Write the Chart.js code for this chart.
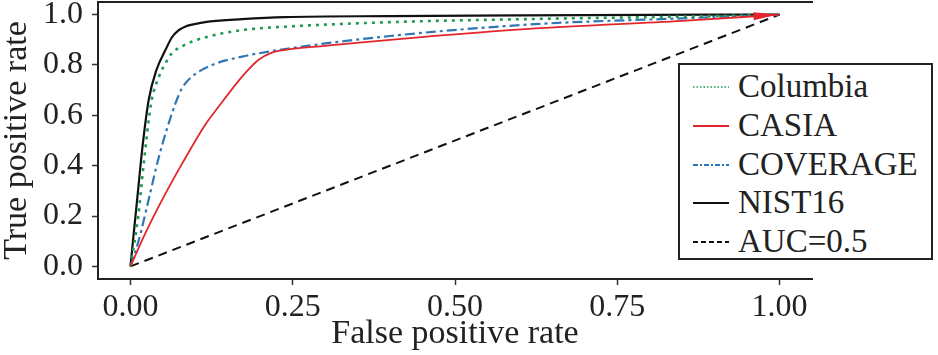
<!DOCTYPE html>
<html>
<head>
<meta charset="utf-8">
<script src="https://cdn.jsdelivr.net/npm/chart.js@4.4.1/dist/chart.umd.min.js"></script>
<style>
  html, body { margin: 0; padding: 0; background: #fff; }
  #wrap { position: relative; width: 938px; height: 355px; overflow: hidden; }
  #c { position: absolute; left: 0; top: 0; }
  #legend { position: absolute; left: 678px; top: 63px; width: 251px; height: 193px;
    border: 2px solid #222; background: #fff; font-family: "Liberation Serif", "Times New Roman", serif;
    font-size: 33px; color: #222; }
  .row { position: absolute; left: 0; height: 38px; line-height: 38px; white-space: nowrap; }
  .row svg { position: absolute; left: 13px; top: 18px; }
  .row span { position: absolute; left: 58px; top: 0; }
</style>
</head>
<body>
<div id="wrap">
  <canvas id="c" width="938" height="355"></canvas>
  <div id="legend"></div>
</div>
<script>
// ---- data ----
const seriesNames = ["Columbia", "CASIA", "COVERAGE", "NIST16", "AUC=0.5"];

const columbiaFpr = [0, 0.012, 0.02, 0.032, 0.044, 0.054, 0.064, 0.08, 0.095, 0.12, 0.146, 0.187, 0.238, 0.4, 0.63, 0.85, 1];
const columbiaTpr = [0, 0.2, 0.397, 0.65, 0.754, 0.807, 0.847, 0.875, 0.893, 0.913, 0.928, 0.943, 0.952, 0.97, 0.983, 0.992, 1];

const casiaFpr = [0, 0.023, 0.049, 0.08, 0.115, 0.136, 0.172, 0.197, 0.218, 0.238, 0.3, 0.4, 0.63, 0.85, 1];
const casiaTpr = [0, 0.132, 0.265, 0.41, 0.562, 0.635, 0.754, 0.82, 0.849, 0.86, 0.876, 0.9, 0.946, 0.975, 1];

const coverageFpr = [0, 0.013, 0.028, 0.044, 0.069, 0.08, 0.095, 0.126, 0.172, 0.238, 0.4, 0.63, 0.85, 1];
const coverageTpr = [0, 0.106, 0.265, 0.437, 0.645, 0.71, 0.754, 0.8, 0.833, 0.863, 0.915, 0.963, 0.985, 1];

const nistFpr = [0, 0.0128, 0.018, 0.028, 0.04, 0.054, 0.064, 0.074, 0.085, 0.095, 0.12, 0.172, 0.238, 0.4, 0.6, 0.8, 1];
const nistTpr = [0, 0.33, 0.463, 0.66, 0.78, 0.86, 0.91, 0.937, 0.953, 0.96, 0.972, 0.982, 0.99, 0.994, 0.997, 0.999, 1];

const chanceFpr = [0, 1];
const chanceTpr = [0, 1];

const xTicks = [0, 0.25, 0.5, 0.75, 1.0];
const yTicks = [0, 0.2, 0.4, 0.6, 0.8, 1.0];

// ---- styles ----
const colors = { Columbia: "#1f9a52", CASIA: "#e2262b", COVERAGE: "#2f78b4", NIST16: "#111111", AUC: "#111111" };
const dashes = { Columbia: [3, 5], CASIA: [], COVERAGE: [10, 4, 3, 4], NIST16: [], AUC: [9, 6] };
const widths = { Columbia: 2.6, CASIA: 1.8, COVERAGE: 2.2, NIST16: 2.2, AUC: 2 };

function pts(xs, ys) { return xs.map((x, i) => ({ x: x, y: ys[i] })); }
function ds(label, key, xs, ys, extra) {
  return Object.assign({
    label: label, data: pts(xs, ys), showLine: true, pointRadius: 0, fill: false,
    borderColor: colors[key], borderWidth: widths[key], borderDash: dashes[key],
    cubicInterpolationMode: 'monotone'
  }, extra || {});
}

const datasets = [
  ds(seriesNames[1], "CASIA", casiaFpr, casiaTpr),
  ds(seriesNames[0], "Columbia", columbiaFpr, columbiaTpr),
  ds(seriesNames[2], "COVERAGE", coverageFpr, coverageTpr),
  ds(seriesNames[3], "NIST16", nistFpr, nistTpr),
  ds(seriesNames[4], "AUC", chanceFpr, chanceTpr, { cubicInterpolationMode: 'default', tension: 0 })
];

const FONT = "'Liberation Serif', 'Times New Roman', serif";

const arrowPlugin = {
  id: 'arrow',
  afterDatasetsDraw(chart) {
    const meta = chart.getDatasetMeta(0);
    const els = meta.data;
    const a = els[els.length - 2], b = els[els.length - 1];
    const ang = Math.atan2(b.y - a.y, b.x - a.x);
    const ctx = chart.ctx;
    ctx.save();
    ctx.translate(b.x - 2, b.y);
    ctx.rotate(ang);
    ctx.beginPath();
    ctx.moveTo(0, 0);
    ctx.lineTo(-24, -4);
    ctx.lineTo(-24, 4);
    ctx.closePath();
    ctx.fillStyle = colors.CASIA;
    ctx.fill();
    ctx.restore();
  }
};

function noPad(ax) { ax.paddingTop = 0; ax.paddingBottom = 0; ax.paddingLeft = 0; ax.paddingRight = 0; }

new Chart(document.getElementById('c'), {
  type: 'scatter',
  data: { datasets: datasets },
  plugins: [arrowPlugin],
  options: {
    responsive: false,
    animation: false,
    devicePixelRatio: 1,
    layout: { padding: { left: 0, right: 126, top: 2, bottom: 0 } },
    plugins: { legend: { display: false }, tooltip: { enabled: false } },
    scales: {
      x: {
        type: 'linear', position: 'bottom', min: -0.05, max: 1.05,
        afterBuildTicks: (ax) => { ax.ticks = xTicks.map(v => ({ value: v })); },
        afterFit: (ax) => { ax.height = 76; noPad(ax); },
        ticks: { color: '#222', padding: 3, maxRotation: 0, autoSkip: false,
          font: { family: FONT, size: 32 }, callback: (v) => Number(v).toFixed(2) },
        grid: { display: true, drawOnChartArea: false, drawTicks: true, tickLength: 6, tickColor: '#333', tickWidth: 1.5 },
        border: { display: true, color: '#222', width: 2 },
        title: { display: true, text: 'False positive rate', color: '#222',
          font: { family: FONT, size: 34, lineHeight: 1 }, padding: { top: 0, bottom: 4 } }
      },
      x2: {
        type: 'linear', position: 'top', min: -0.05, max: 1.05,
        afterFit: (ax) => { ax.height = 0; noPad(ax); },
        ticks: { display: false },
        grid: { display: true, drawOnChartArea: false, drawTicks: false },
        border: { display: true, color: '#222', width: 2 }
      },
      y: {
        type: 'linear', position: 'left', min: -0.05, max: 1.05,
        afterBuildTicks: (ax) => { ax.ticks = yTicks.map(v => ({ value: v })); },
        afterFit: (ax) => { ax.width = 98; noPad(ax); },
        ticks: { color: '#222', padding: 9, font: { family: FONT, size: 32 },
          callback: (v) => Number(v).toFixed(1) },
        grid: { display: true, drawOnChartArea: false, drawTicks: true, tickLength: 6, tickColor: '#333', tickWidth: 1.5 },
        border: { display: true, color: '#222', width: 2 },
        title: { display: true, text: 'True positive rate', color: '#222',
          font: { family: FONT, size: 34, lineHeight: 1 }, padding: { top: 0, bottom: 0 } }
      }
    }
  }
});

// ---- legend (HTML) ----
const legendKeys = ["Columbia", "CASIA", "COVERAGE", "NIST16", "AUC"];
const legend = document.getElementById('legend');
seriesNames.forEach((name, i) => {
  const key = legendKeys[i];
  const row = document.createElement('div');
  row.className = 'row';
  row.style.top = (2 + i * 38.75) + 'px';
  const dashAttr = dashes[key].length ? ` stroke-dasharray="${key === 'Columbia' ? '1.5,2' : key === 'COVERAGE' ? '5,2,2,2' : '5,3'}"` : '';
  const w = key === 'Columbia' ? 1.5 : 2;
  row.innerHTML = `<svg width="36" height="4"><line x1="0" y1="2" x2="36" y2="2" stroke="${colors[key]}" stroke-width="${w}"${dashAttr}/></svg><span>${name}</span>`;
  legend.appendChild(row);
});
</script>
</body>
</html>
